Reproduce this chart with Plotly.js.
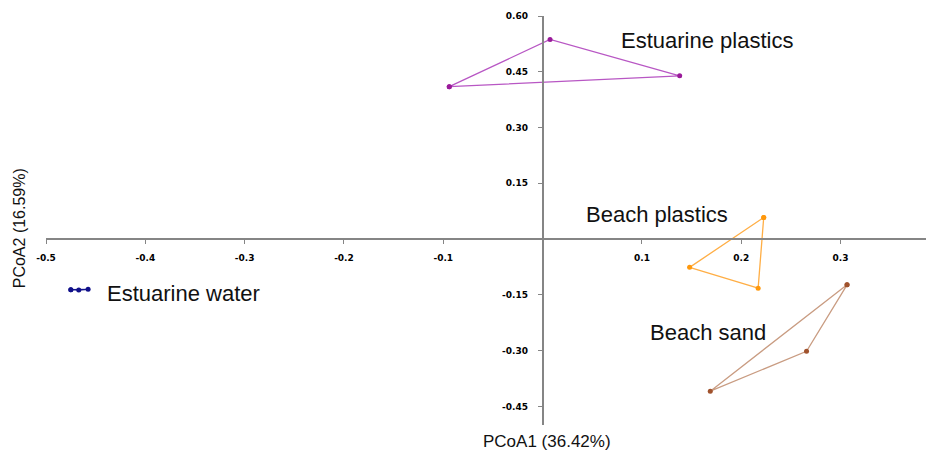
<!DOCTYPE html>
<html>
<head>
<meta charset="utf-8">
<script src="https://cdn.plot.ly/plotly-3.0.1.min.js"></script>
<style>html,body{margin:0;padding:0;background:#fff;}#chart{width:926px;height:450px;}</style>
</head>
<body>
<div id="chart"></div>
<script>
// Group names
var groups = ["Estuarine plastics", "Beach plastics", "Beach sand", "Estuarine water"];
// PCoA coordinates per group (3 samples each)
var estPlasticsX = [-0.094, 0.0075, 0.138];
var estPlasticsY = [0.410, 0.537, 0.439];
var beachPlasticsX = [0.2226, 0.148, 0.217];
var beachPlasticsY = [0.058, -0.076, -0.132];
var beachSandX = [0.3065, 0.2657, 0.1688];
var beachSandY = [-0.123, -0.3016, -0.409];
var estWaterX = [-0.475, -0.467, -0.4576];
var estWaterY = [-0.136, -0.137, -0.135];
// Tick labels
var xTickVals = [-0.5, -0.4, -0.3, -0.2, -0.1, 0.1, 0.2, 0.3];
var xTickText = ["-0.5", "-0.4", "-0.3", "-0.2", "-0.1", "0.1", "0.2", "0.3"];
var yTickVals = [0.60, 0.45, 0.30, 0.15, -0.15, -0.30, -0.45];
var yTickText = ["0.60", "0.45", "0.30", "0.15", "-0.15", "-0.30", "-0.45"];
var xTitle = "PCoA1 (36.42%)";
var yTitle = "PCoA2 (16.59%)";

function closed(a) { return a.concat([a[0]]); }

var styles = [
  {line: "#b857c4", marker: "#9a1a9a"},
  {line: "#ffae45", marker: "#ff980c"},
  {line: "#c99c82", marker: "#a0522d"},
  {line: "#14148c", marker: "#10108a"}
];
var xs = [estPlasticsX, beachPlasticsX, beachSandX, estWaterX];
var ys = [estPlasticsY, beachPlasticsY, beachSandY, estWaterY];

var traces = groups.map(function (g, i) {
  return {
    type: "scatter",
    mode: "lines+markers",
    name: g,
    x: closed(xs[i]),
    y: closed(ys[i]),
    line: {color: styles[i].line, width: 1.3},
    marker: {color: styles[i].marker, size: 5},
    hoverinfo: "x+y+name"
  };
});

var xRange = [-0.5, 0.386];
var yRange = [-0.5, 0.6];

var tickFont = {family: "DejaVu Sans", size: 9, color: "#000", weight: "bold"};
var lblFont = {family: "Liberation Sans, Arial, sans-serif", size: 22, color: "#111"};

var layout = {
  width: 926, height: 450,
  margin: {l: 46, r: 0, t: 16, b: 25},
  paper_bgcolor: "#fff", plot_bgcolor: "#fff",
  showlegend: false,
  xaxis: {
    range: xRange, anchor: "free", position: (0 - yRange[0]) / (yRange[1] - yRange[0]),
    showgrid: false, zeroline: false, showline: true, linecolor: "#858585", linewidth: 1.5,
    ticks: "outside", ticklen: 4, tickcolor: "#858585", tickwidth: 1,
    tickvals: xTickVals, ticktext: xTickText, tickfont: tickFont, ticklabelstandoff: 6
  },
  yaxis: {
    range: yRange, anchor: "free", position: (0 - xRange[0]) / (xRange[1] - xRange[0]),
    showgrid: false, zeroline: false, showline: true, linecolor: "#858585", linewidth: 1.5,
    ticks: "outside", ticklen: 4, tickcolor: "#858585", tickwidth: 1,
    tickvals: yTickVals, ticktext: yTickText, tickfont: tickFont, ticklabelstandoff: 8
  },
  annotations: [
    {x: 0.165, y: 0.534, xref: "x", yref: "y", text: groups[0], showarrow: false, xanchor: "center", yanchor: "middle", font: lblFont},
    {x: 0.1153, y: 0.0656, xref: "x", yref: "y", text: groups[1], showarrow: false, xanchor: "center", yanchor: "middle", font: lblFont},
    {x: 0.1664, y: -0.2505, xref: "x", yref: "y", text: groups[2], showarrow: false, xanchor: "center", yanchor: "middle", font: lblFont},
    {x: -0.441, y: -0.1476, xref: "x", yref: "y", text: groups[3], showarrow: false, xanchor: "left", yanchor: "middle", font: lblFont},
    {x: 0.569, y: -0.041, xref: "paper", yref: "paper", text: xTitle, showarrow: false, xanchor: "center", yanchor: "middle",
     font: {family: "Liberation Sans, Arial, sans-serif", size: 17, color: "#111"}},
    {x: -0.0307, y: 0.481, xref: "paper", yref: "paper", text: yTitle, showarrow: false, xanchor: "center", yanchor: "middle", textangle: -90,
     font: {family: "Liberation Sans, Arial, sans-serif", size: 16, color: "#111"}}
  ]
};

Plotly.newPlot("chart", traces, layout, {displayModeBar: false, staticPlot: false});
</script>
</body>
</html>
